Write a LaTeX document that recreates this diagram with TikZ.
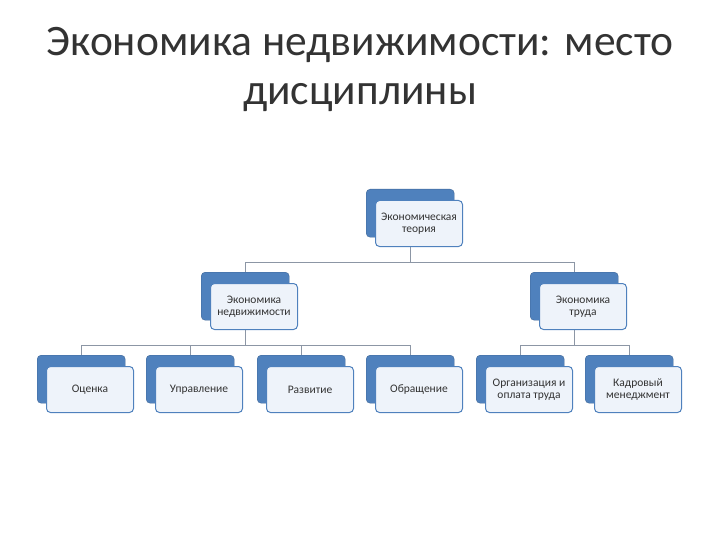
\documentclass[tikz,border=0pt]{standalone}
\usepackage{fontspec}
\setmainfont{Carlito}
\usetikzlibrary{backgrounds}
\definecolor{bk}{RGB}{79,129,189}
\definecolor{fr}{RGB}{238,243,250}
\definecolor{ln}{RGB}{140,150,165}
\tikzset{
 backbox/.style={draw=bk!80!black,fill=bk,rounded corners=4pt,minimum width=88pt,minimum height=48pt,anchor=north west,inner sep=0pt},
 frontbox/.style={draw=bk,line width=1pt,fill=fr,rounded corners=4pt,minimum width=87pt,minimum height=46pt,anchor=north west,inner sep=1pt,align=center,font=\fontsize{11.5}{12.5}\selectfont,text=black!80},
 conn/.style={draw=ln,line width=1pt},
 title/.style={font=\fontsize{43.5}{48}\selectfont,text=black!80}
}
\newcommand{\pairbox}[4]{%
 \node[backbox] (#1b) at (#2,#3) {};
 \node[frontbox] (#1) at (#2+9,#3+11) {#4};}
\begin{document}
\begin{tikzpicture}[x=1pt,y=-1pt]
\useasboundingbox (0,0) rectangle (720,540);
\node[title] (t1) at (360,45) {Экономика недвижимости: место};
\node[title] (t2) at (360,98) {дисциплины};
\pairbox{top}{366}{189}{Экономическая\\теория}
\pairbox{en}{201}{272}{Экономика\\недвижимости}
\pairbox{et}{530}{272}{Экономика\\труда}
\pairbox{a}{37}{355}{Оценка}
\pairbox{b}{146}{355}{Управление}
\pairbox{c}{257}{355}{Развитие}
\pairbox{d}{366}{355}{Обращение}
\pairbox{e}{476}{355}{Организация и\\оплата труда}
\pairbox{f}{585}{355}{Кадровый\\менеджмент}
\begin{scope}[on background layer]
\draw[conn] (top.south -| topb.south) -- ++(0,15) -| (enb.north);
\draw[conn] (top.south -| topb.south) ++(0,15) -| (etb.north);
\foreach \n in {a,b,c,d} \draw[conn] (en.south -| enb.south) -- ++(0,15) -| (\n b.north);
\foreach \n in {e,f} \draw[conn] (et.south -| etb.south) -- ++(0,15) -| (\n b.north);
\end{scope}
\end{tikzpicture}
\end{document}
